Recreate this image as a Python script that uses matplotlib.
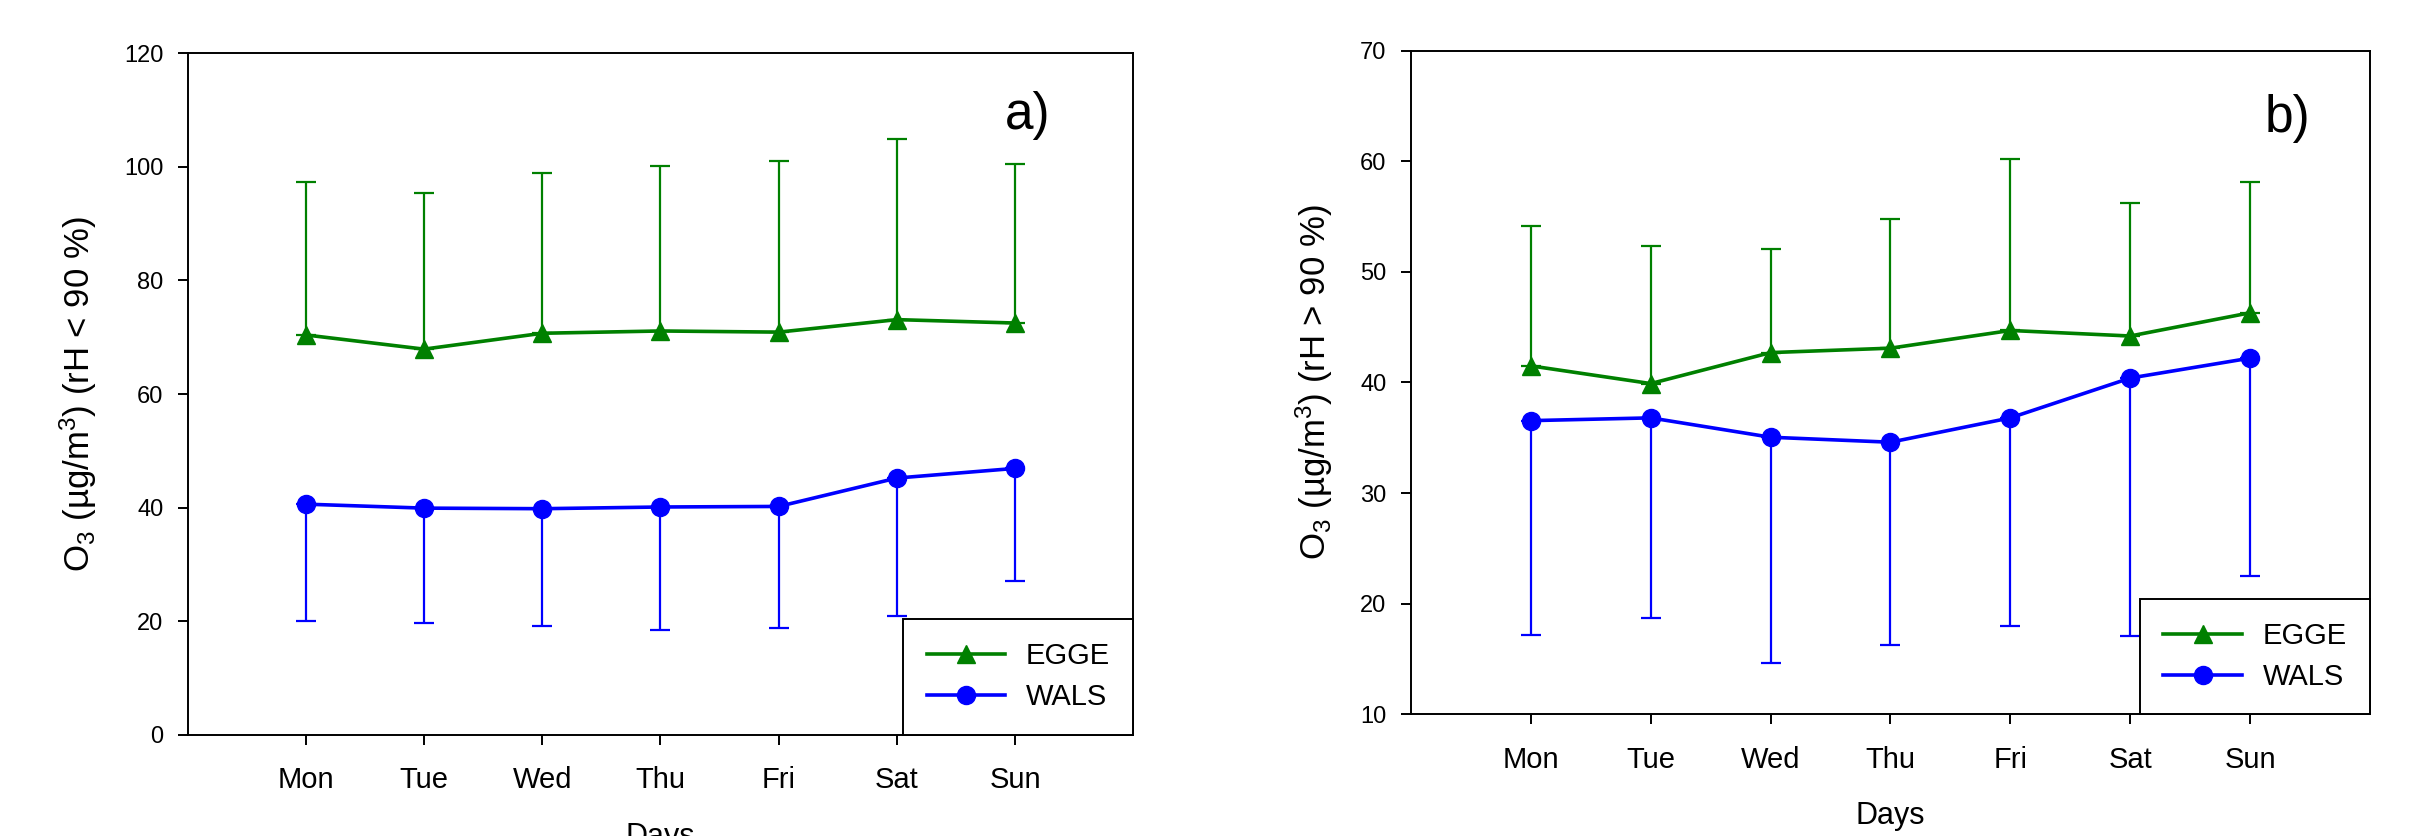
import numpy as np
import matplotlib
matplotlib.use("Agg")
import matplotlib.pyplot as plt

plt.rcParams['font.family'] = ['Liberation Sans', 'DejaVu Sans']
plt.rcParams['mathtext.fontset'] = 'custom'
plt.rcParams['mathtext.rm'] = 'Liberation Sans'
plt.rcParams['mathtext.default'] = 'regular'

days = ['Mon', 'Tue', 'Wed', 'Thu', 'Fri', 'Sat', 'Sun']

# panel a) rH < 90 %
egge_a = [70.4, 67.9, 70.7, 71.1, 70.9, 73.1, 72.5]
egge_a_up = [97.3, 95.4, 98.9, 100.2, 101.0, 104.9, 100.5]
wals_a = [40.6, 39.9, 39.8, 40.1, 40.2, 45.2, 46.9]
wals_a_lo = [20.1, 19.6, 19.1, 18.4, 18.8, 20.9, 27.1]

# panel b) rH > 90 %
egge_b = [41.5, 39.9, 42.7, 43.1, 44.7, 44.2, 46.3]
egge_b_up = [54.1, 52.3, 52.1, 54.8, 60.2, 56.2, 58.1]
wals_b = [36.55, 36.8, 35.05, 34.6, 36.8, 40.4, 42.2]
wals_b_lo = [17.2, 18.7, 14.6, 16.3, 18.0, 17.1, 22.5]

x = np.arange(1, len(days) + 1)


def draw_panel(ax, egge, egge_up, wals, wals_lo, ylim, yticks, ylabel, tag, tagpos):
    egge = np.array(egge)
    wals = np.array(wals)
    # one sided error bars: EGGE upward, WALS downward
    ax.errorbar(x, egge, yerr=[np.zeros(7), np.array(egge_up) - egge],
                fmt='none', ecolor='green', elinewidth=1.6, capsize=7, capthick=1.6)
    ax.errorbar(x, wals, yerr=[wals - np.array(wals_lo), np.zeros(7)],
                fmt='none', ecolor='blue', elinewidth=1.6, capsize=7, capthick=1.6)
    ax.plot(x, egge, color='green', lw=2.6, marker='^', ms=13, label='EGGE')
    ax.plot(x, wals, color='blue', lw=2.6, marker='o', ms=13, label='WALS')

    ax.set_xlim(0, 8)
    ax.set_ylim(*ylim)
    ax.set_xticks(x)
    ax.set_xticklabels(days, fontsize=21)
    ax.set_yticks(yticks)
    ax.tick_params(axis='y', labelsize=17, length=7.5, width=1.4, pad=10)
    ax.tick_params(axis='x', length=7.5, width=1.4, pad=15)
    for s in ax.spines.values():
        s.set_linewidth(1.4)
    ax.set_xlabel('Days', fontsize=22, labelpad=20)
    ax.set_ylabel(ylabel, fontsize=25, labelpad=18)
    ax.text(tagpos[0], tagpos[1], tag, transform=ax.transAxes, fontsize=37,
            ha='center', va='center')
    leg = ax.legend(loc='lower right', borderaxespad=0, fancybox=False,
                    edgecolor='black', framealpha=1, fontsize=21,
                    handlelength=2.7, handletextpad=0.7, borderpad=0.8,
                    labelspacing=0.45, numpoints=1)
    leg.get_frame().set_linewidth(1.4)


fig = plt.figure(figsize=(24.11, 8.36), dpi=100)
ax1 = fig.add_axes([0.0778, 0.1212, 0.3923, 0.815])
ax2 = fig.add_axes([0.5852, 0.1455, 0.3978, 0.794])

draw_panel(ax1, egge_a, egge_a_up, wals_a, wals_a_lo, (0, 120),
           np.arange(0, 121, 20), 'O$_3$ (µg/m$^3$) (rH < 90 %)', 'a)', (0.888, 0.909))
draw_panel(ax2, egge_b, egge_b_up, wals_b, wals_b_lo, (10, 70),
           np.arange(10, 71, 10), 'O$_3$ (µg/m$^3$) (rH > 90 %)', 'b)', (0.914, 0.898))

fig.savefig('out.png', dpi=100)
